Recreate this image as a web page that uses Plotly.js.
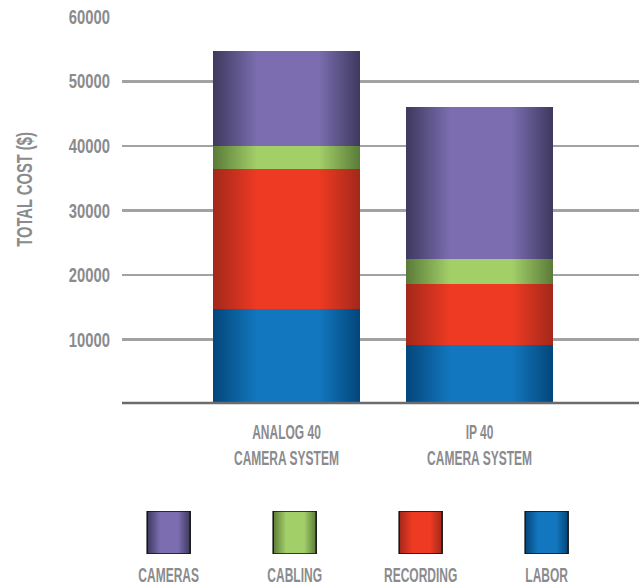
<!DOCTYPE html>
<html><head><meta charset="utf-8">
<script src="https://cdn.plot.ly/plotly-3.0.1.min.js"></script>
<style>html,body{margin:0;padding:0;background:#fff}#chart{width:639px;height:586px}</style>
</head><body><div id="chart"></div>
<script>
// ---- data ----
var categories = ['ANALOG 40<br>CAMERA SYSTEM', 'IP 40<br>CAMERA SYSTEM'];
var labor = [14700, 9200];
var recording = [21700, 9400];
var cabling = [3600, 3900];
var cameras = [14700, 23500];
var seriesNames = ['LABOR', 'RECORDING', 'CABLING', 'CAMERAS'];
var legendLabels = ['CAMERAS', 'CABLING', 'RECORDING', 'LABOR'];
var yTicks = [10000, 20000, 30000, 40000, 50000, 60000];

// ---- styles ----
var grad = {
  LABOR:     ['#03467a', '#1277be'],
  RECORDING: ['#a3281a', '#ee3a23'],
  CABLING:   ['#5a7b38', '#a3cf69'],
  CAMERAS:   ['#3d395e', '#7b6db0']
};
var FONT = '"Liberation Sans", Arial, "DejaVu Sans", sans-serif';
var GREY = '#8a8b8e';

var seriesVals = [labor, recording, cabling, cameras];
var traces = seriesVals.map(function (v, i) {
  return {
    type: 'bar', x: categories, y: v, name: seriesNames[i],
    marker: { color: grad[seriesNames[i]][1], line: { width: 0 } },
    xaxis: 'x', yaxis: 'y', hoverinfo: 'skip'
  };
});
traces.push({
  type: 'scatter', mode: 'markers',
  x: legendLabels, y: legendLabels.map(function () { return 0; }),
  xaxis: 'x2', yaxis: 'y2', hoverinfo: 'skip',
  marker: {
    symbol: 'square', size: 43,
    color: legendLabels.map(function (n) { return grad[n][1]; }),
    line: { color: '#111', width: 1.5 }
  }
});

var layout = {
  width: 639, height: 586,
  margin: { l: 0, r: 0, t: 0, b: 0 },
  paper_bgcolor: '#fff', plot_bgcolor: 'rgba(0,0,0,0)',
  showlegend: false, barmode: 'stack', bargap: 0.238,
  font: { family: FONT, color: GREY, size: 20, weight: 'bold' },
  xaxis: {
    type: 'category', domain: [122 / 639, 1], range: [-0.852, 1.826],
    showgrid: false, zeroline: false, showline: false, ticks: '',
    tickfont: { family: FONT, size: 20, color: GREY, weight: 'bold' },
    ticklabelstandoff: 14, fixedrange: true
  },
  yaxis: {
    domain: [(586 - 404.3) / 586, (586 - 16.7) / 586], range: [0, 60000],
    tickvals: yTicks, ticktext: yTicks.map(String),
    showgrid: true, gridcolor: '#a2a2a4', gridwidth: 2.5,
    zeroline: false, showline: false, ticks: '',
    tickfont: { family: FONT, size: 20, color: GREY, weight: 'bold' },
    ticklabelstandoff: 11, fixedrange: true
  },
  xaxis2: {
    type: 'category', anchor: 'y2', domain: [0, 1], range: [-1.339, 3.733],
    showgrid: false, zeroline: false, showline: false, ticks: '',
    tickfont: { family: FONT, size: 20, color: GREY, weight: 'bold' },
    ticklabelstandoff: 7, fixedrange: true
  },
  yaxis2: {
    anchor: 'x2', domain: [(586 - 554) / 586, (586 - 511) / 586], range: [-1, 1],
    visible: false, fixedrange: true
  },
  shapes: [{
    type: 'line', layer: 'above', xref: 'x domain', yref: 'y',
    x0: 0, x1: 1, y0: 0, y1: 0,
    line: { color: '#6b6b6d', width: 5 }
  }],
  annotations: [{
    text: 'TOTAL COST ($)', textangle: -90, showarrow: false,
    xref: 'paper', yref: 'paper', x: 25 / 639, y: 1 - 190 / 586,
    xanchor: 'center', yanchor: 'middle',
    font: { family: FONT, size: 22, color: GREY, weight: 'bold' }
  }]
};

function condense(el, f) {
  var lines = el.querySelectorAll('tspan.line');
  var targets = lines.length ? Array.prototype.slice.call(lines) : [el];
  targets.forEach(function (t) {
    var w = t.getComputedTextLength();
    if (w > 0) {
      t.setAttribute('textLength', (w * f).toFixed(2));
      t.setAttribute('lengthAdjust', 'spacingAndGlyphs');
    }
  });
}

Plotly.newPlot('chart', traces, layout, { staticPlot: true }).then(function (gd) {
  var svg = gd.querySelector('svg.main-svg');
  var NS = 'http://www.w3.org/2000/svg';
  var defs = svg.querySelector('defs') || svg.insertBefore(document.createElementNS(NS, 'defs'), svg.firstChild);
  Object.keys(grad).forEach(function (k) {
    var lg = document.createElementNS(NS, 'linearGradient');
    lg.setAttribute('id', 'grad-' + k);
    lg.setAttribute('x1', '0'); lg.setAttribute('x2', '1');
    lg.setAttribute('y1', '0'); lg.setAttribute('y2', '0');
    [[0, grad[k][0]], [0.3, grad[k][1]], [0.5, grad[k][1]], [0.72, grad[k][1]], [1, grad[k][0]]].forEach(function (s) {
      var st = document.createElementNS(NS, 'stop');
      st.setAttribute('offset', s[0]);
      st.setAttribute('stop-color', s[1]);
      lg.appendChild(st);
    });
    defs.appendChild(lg);
  });
  gd.querySelectorAll('.barlayer .trace').forEach(function (t, i) {
    t.querySelectorAll('path').forEach(function (p) { p.style.fill = 'url(#grad-' + seriesNames[i] + ')'; });
  });
  gd.querySelectorAll('.scatterlayer .trace .point').forEach(function (p, i) {
    p.style.fill = 'url(#grad-' + legendLabels[i] + ')';
  });
  // condensed lettering like the reference typeface
  gd.querySelectorAll('.ytick text').forEach(function (t) { condense(t, 0.74); });
  gd.querySelectorAll('.xtick text, .x2tick text').forEach(function (t) { condense(t, 0.6); });
  gd.querySelectorAll('.annotation-text').forEach(function (t) { condense(t, 0.67); });
});
</script>
</body></html>
